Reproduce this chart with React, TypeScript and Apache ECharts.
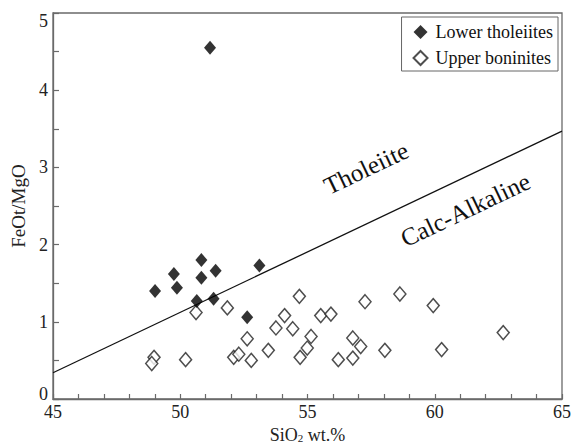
import React, { useEffect, useRef } from "react";
import * as echarts from "echarts";

// SiO2 (wt.%) and FeOt/MgO for each sample group
const tholeiiteSiO2 = [51.17, 49.01, 49.75, 49.87, 50.83, 50.83, 51.39, 50.65, 51.31, 53.11, 52.63];
const tholeiiteFeMg = [4.55, 1.4, 1.62, 1.44, 1.8, 1.57, 1.66, 1.27, 1.3, 1.73, 1.06];

const boniniteSiO2 = [
  50.62, 51.85, 48.97, 48.88, 50.21, 52.63, 52.1, 52.3, 52.79, 53.46, 53.76, 54.1, 54.42, 54.68, 54.71,
  54.99, 55.14, 55.52, 55.92, 57.26, 58.63, 59.94, 56.78, 57.09, 56.21, 56.78, 58.04, 60.27, 62.69,
];
const boniniteFeMg = [
  1.12, 1.18, 0.54, 0.46, 0.51, 0.78, 0.54, 0.58, 0.5, 0.63, 0.92, 1.08, 0.91, 1.33, 0.54, 0.66, 0.81,
  1.08, 1.1, 1.26, 1.36, 1.21, 0.79, 0.68, 0.51, 0.53, 0.63, 0.64, 0.86,
];

// Tholeiite / calc-alkaline dividing line end points
const dividerSiO2 = [45, 65];
const dividerFeMg = [0.34, 3.47];

// Field labels, positioned in data coordinates
const fieldNames = ["Tholeiite", "Calc-Alkaline"];
const fieldSiO2 = [57.3, 61.2];
const fieldFeMg = [2.99, 2.45];

const xTicks = [45, 50, 55, 60, 65];
const yTicks = [0, 1, 2, 3, 4, 5];

const FONT = "Liberation Serif";
const AXIS_COLOR = "#6a6a6a";

export default function App() {
  const ref = useRef<HTMLDivElement>(null);

  useEffect(() => {
    if (!ref.current) return;
    const chart = echarts.init(ref.current, undefined, { renderer: "svg" });

    const zip = (xs: number[], ys: number[]) => xs.map((x, i) => [x, ys[i]]);
    const yMin = yTicks[0];
    const yMax = yTicks[yTicks.length - 1];

    chart.setOption({
      animation: false,
      backgroundColor: "#ffffff",
      grid: {
        left: 53,
        right: 22,
        top: 13,
        bottom: 45,
        outerBoundsMode: "none",
        containLabel: false,
        show: true,
        borderColor: AXIS_COLOR,
        borderWidth: 1.3,
        backgroundColor: "transparent",
      },
      legend: {
        orient: "vertical",
        right: 26,
        top: 17,
        borderColor: "#666",
        borderWidth: 1,
        padding: [6, 5, 4, 11],
        itemWidth: 14,
        itemHeight: 14,
        itemGap: 8,
        textStyle: { fontFamily: FONT, fontSize: 18, color: "#111", padding: [0, 0, 0, 3] },
        data: [
          { name: "Lower tholeiites", icon: "diamond" },
          { name: "Upper boninites", icon: "diamond" },
        ],
      },
      xAxis: {
        type: "value",
        min: xTicks[0],
        max: xTicks[xTicks.length - 1],
        interval: 5,
        name: "{a|SiO}{s|2}{a| wt.%}",
        nameLocation: "middle",
        nameGap: 23,
        nameTextStyle: {
          rich: {
            a: { fontFamily: FONT, fontSize: 18, color: "#222", lineHeight: 20, verticalAlign: "bottom" },
            // subscript: a short box aligned to the line bottom drops the digit below the baseline
            s: { fontFamily: FONT, fontSize: 11, color: "#222", lineHeight: 6, verticalAlign: "bottom" },
          },
        },
        axisLine: { show: true, lineStyle: { color: AXIS_COLOR, width: 1.3 } },
        axisTick: { show: true, inside: true, length: 5, lineStyle: { color: AXIS_COLOR, width: 1.2 } },
        minorTick: { show: true, splitNumber: 5, length: 5, lineStyle: { color: AXIS_COLOR, width: 1.2 } },
        axisLabel: { fontFamily: FONT, fontSize: 18, color: "#222", margin: 4 },
        splitLine: { show: false },
      },
      yAxis: {
        type: "value",
        min: yMin,
        max: yMax,
        interval: 1,
        name: "FeOt/MgO",
        nameLocation: "middle",
        nameGap: 17,
        nameTextStyle: { fontFamily: FONT, fontSize: 19, color: "#222" },
        axisLine: { show: true, lineStyle: { color: AXIS_COLOR, width: 1.3 } },
        axisTick: { show: true, inside: true, length: 6, lineStyle: { color: AXIS_COLOR, width: 1.2 } },
        minorTick: { show: true, splitNumber: 2, length: 6, lineStyle: { color: AXIS_COLOR, width: 1.2 } },
        axisLabel: {
          fontFamily: FONT,
          fontSize: 18,
          color: "#222",
          margin: 5,
          // end labels sit inside the frame's corners
          formatter: (v: number) => (v === yMin ? `{lo|${v}}` : v === yMax ? `{hi|${v}}` : `${v}`),
          rich: {
            lo: { fontFamily: FONT, fontSize: 18, color: "#222", padding: [0, 0, 10, 0] },
            hi: { fontFamily: FONT, fontSize: 18, color: "#222", padding: [16, 0, 0, 0] },
          },
        },
        splitLine: { show: false },
      },
      series: [
        {
          type: "line",
          name: "divider",
          data: zip(dividerSiO2, dividerFeMg),
          symbol: "none",
          lineStyle: { color: "#111", width: 1.3 },
          silent: true,
          z: 1,
        },
        {
          type: "scatter",
          name: "Lower tholeiites",
          data: zip(tholeiiteSiO2, tholeiiteFeMg),
          symbol: "diamond",
          symbolSize: [12, 14],
          itemStyle: { color: "#000" },
          z: 3,
        },
        {
          type: "scatter",
          name: "Upper boninites",
          data: zip(boniniteSiO2, boniniteFeMg),
          symbol: "diamond",
          symbolSize: [12, 14],
          itemStyle: { color: "#fff", borderColor: "#222", borderWidth: 1.5 },
          z: 2,
        },
      ],
    });

    // Field names run parallel to the dividing line
    const p0 = chart.convertToPixel({ gridIndex: 0 }, [dividerSiO2[0], dividerFeMg[0]]) as number[];
    const p1 = chart.convertToPixel({ gridIndex: 0 }, [dividerSiO2[1], dividerFeMg[1]]) as number[];
    const angle = Math.atan2(p0[1] - p1[1], p1[0] - p0[0]);
    chart.setOption({
      graphic: fieldNames.map((name, i) => {
        const p = chart.convertToPixel({ gridIndex: 0 }, [fieldSiO2[i], fieldFeMg[i]]) as number[];
        return {
          type: "text",
          x: p[0],
          y: p[1],
          rotation: angle,
          style: {
            text: name,
            fontFamily: FONT,
            fontSize: 25,
            fill: "#111",
            align: "center",
            verticalAlign: "middle",
          },
        };
      }),
    });

    return () => chart.dispose();
  }, []);

  return <div ref={ref} style={{ position: "fixed", left: 0, top: 0, width: 584, height: 444 }} />;
}
